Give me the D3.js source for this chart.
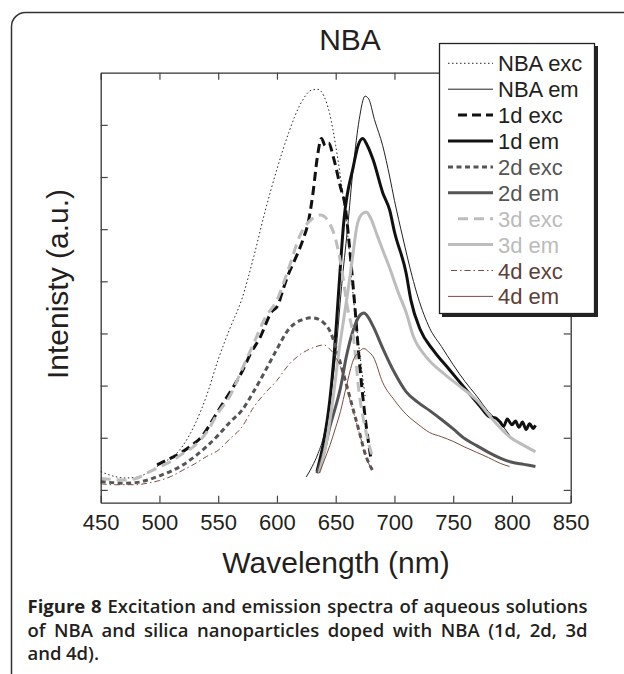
<!DOCTYPE html>
<html lang="en">
<head>
<meta charset="utf-8">
<title>NBA spectra</title>
<script src="https://cdn.jsdelivr.net/npm/d3@7"></script>
<style>
  body { margin: 0; background: #fff; }
  svg { display: block; }
</style>
</head>
<body>
<div id="drawing"></div>
<script>
// wavelength (nm), intensity (a.u.)
var nbaExc = [[450,0.35],[460,0.27],[470,0.23],[480,0.24],[490,0.33],[500,0.48],[510,0.62],[515,0.71],[520,0.85],[530,1.25],[540,1.8],[550,2.5],[560,3.1],[570,3.65],[580,4.45],[590,5.35],[600,6.15],[610,6.85],[620,7.4],[630,7.67],[635,7.68],[640,7.55],[645,7.2],[650,6.6],[655,5.85],[660,4.95],[665,3.7],[670,2.7],[675,1.8]];
var nbaEm = [[625,0.25],[630,0.45],[635,0.7],[640,1.05],[645,1.7],[650,2.6],[655,3.9],[660,5.0],[665,6.2],[670,7.1],[675,7.55],[678,7.5],[683,7.1],[690,6.6],[696,6.0],[700,5.55],[707,4.85],[715,4.1],[720,3.7],[730,3.1],[740,2.75],[750,2.4],[760,2.08],[770,1.8],[780,1.5],[790,1.28],[798,1.05]];
var d1Exc = [[498,0.48],[505,0.56],[515,0.67],[526,0.83],[537,1.05],[546,1.37],[554,1.66],[563,1.98],[571,2.3],[577,2.59],[586,2.94],[595,3.4],[601,3.55],[605,3.83],[610,4.15],[615,4.4],[622,4.79],[627,5.17],[631,5.75],[634,6.32],[638,6.74],[641,6.6],[644,6.65],[648,6.38],[654,5.81],[658,5.45],[662,4.6],[666,3.6],[670,2.5],[675,1.4],[680,0.6]];
var d1Em = [[634,0.35],[640,0.95],[645,1.72],[649,2.68],[652,3.64],[657,5.17],[665,6.2],[669,6.6],[673,6.74],[677,6.6],[682,6.32],[690,5.7],[696,5.36],[700,4.95],[710,4.15],[714,3.64],[722,3.07],[733,2.68],[747,2.3],[761,1.92],[773,1.6],[781,1.4],[786,1.38],[790,1.3],[793,1.22],[796,1.36],[800,1.25],[803,1.32],[806,1.2],[809,1.3],[812,1.16],[815,1.27],[818,1.18],[820,1.24]];
var d2Exc = [[450,0.16],[460,0.14],[470,0.13],[480,0.14],[490,0.19],[500,0.27],[510,0.36],[520,0.48],[530,0.64],[540,0.83],[550,1.05],[560,1.3],[570,1.52],[580,1.88],[590,2.28],[600,2.7],[610,3.08],[620,3.25],[630,3.3],[640,3.2],[645,3.05],[650,2.75],[655,2.35],[660,1.95],[665,1.53],[670,1.12],[675,0.7],[682,0.35]];
var d2Em = [[634,0.32],[640,0.72],[645,1.21],[650,1.6],[654,1.95],[659,2.55],[665,3.07],[670,3.33],[674,3.39],[678,3.3],[682,3.13],[690,2.72],[700,2.25],[710,1.88],[720,1.68],[730,1.52],[740,1.35],[750,1.17],[760,0.98],[770,0.85],[780,0.72],[790,0.61],[800,0.53],[810,0.49],[820,0.45]];
var d3Exc = [[450,0.22],[460,0.2],[470,0.19],[480,0.22],[490,0.33],[500,0.44],[510,0.55],[520,0.7],[530,0.85],[540,1.1],[550,1.48],[560,1.8],[570,2.3],[580,2.8],[590,3.3],[600,3.64],[610,4.25],[620,4.9],[630,5.2],[637,5.27],[645,5.1],[650,4.8],[655,4.25],[660,3.5],[665,2.95],[670,1.85],[675,1.2],[681,0.65]];
var d3Em = [[636,0.33],[642,0.9],[648,1.8],[653,2.7],[657,3.3],[660,3.75],[664,4.4],[668,5.05],[672,5.28],[676,5.33],[680,5.2],[685,4.9],[690,4.6],[696,4.25],[703,3.8],[710,3.4],[716,2.95],[727,2.55],[742,2.23],[756,1.98],[770,1.72],[784,1.34],[798,1.02],[812,0.83],[820,0.73]];
var d4Exc = [[450,0.12],[460,0.1],[470,0.1],[480,0.1],[490,0.13],[500,0.18],[510,0.26],[520,0.38],[530,0.5],[540,0.64],[550,0.76],[560,0.98],[570,1.2],[580,1.58],[590,1.86],[600,2.1],[610,2.4],[620,2.6],[630,2.72],[640,2.78],[645,2.7],[650,2.55],[655,2.3],[660,1.9],[665,1.5],[670,1.1],[675,0.7],[680,0.4]];
var d4Em = [[636,0.32],[640,0.55],[645,0.85],[650,1.2],[654,1.5],[659,1.98],[665,2.49],[670,2.65],[674,2.71],[678,2.65],[682,2.55],[690,2.06],[700,1.72],[710,1.45],[720,1.26],[730,1.1],[740,1.02],[750,0.93],[760,0.82],[770,0.72],[780,0.62],[790,0.51],[798,0.45]];

var seriesNames = ["NBA exc", "NBA em", "1d exc", "1d em", "2d exc", "2d em", "3d exc", "3d em", "4d exc", "4d em"];
var seriesData = [nbaExc, nbaEm, d1Exc, d1Em, d2Exc, d2Em, d3Exc, d3Em, d4Exc, d4Em];
var xTicks = [450, 500, 550, 600, 650, 700, 750, 800, 850];
var yTicks = [0, 1, 2, 3, 4, 5, 6, 7];

// styles
var colors = ["#222", "#222", "#111", "#111", "#555", "#555", "#bdbdbd", "#bdbdbd", "#7a4e42", "#7a4e42"];
var textColors = ["#231f20", "#231f20", "#231f20", "#231f20", "#555", "#555", "#bbb", "#bbb", "#5e4038", "#5e4038"];
var widths = [1, 1, 3, 3, 3, 3, 3, 3, 1, 1];
var dashes = ["1.5,2.5", null, "9,5", null, "5,3.5", null, "10,6", null, "6,3,1.5,3", null];
var sampleStart = [448, 448, 458, 448, 448, 448, 458, 448, 451, 448];

var font = "'Liberation Sans', Arial, Helvetica, sans-serif";

var svg = d3.select("#drawing").append("svg")
    .attr("width", 624)
    .attr("height", 674);

var x = d3.scaleLinear().domain([450, 850]).range([100.7, 570.7]);
var y = d3.scaleLinear().domain([-0.245, 8]).range([502.7, 72.7]);

var line = d3.line()
    .x(function(d) { return x(d[0]); })
    .y(function(d) { return y(d[1]); })
    .curve(d3.curveMonotoneX);

for (var i = 0; i < seriesData.length; i++) {
    svg.append("path")
        .attr("d", line(seriesData[i]))
        .attr("fill", "none")
        .attr("stroke", colors[i])
        .attr("stroke-width", widths[i])
        .attr("stroke-dasharray", dashes[i])
        .attr("stroke-linejoin", "round");
}

// axes, ticks pointing inward
function styleAxis(g) {
    g.select(".domain").attr("stroke", "#333").attr("stroke-width", 1.3);
    g.selectAll(".tick line").attr("stroke", "#444").attr("stroke-width", 1.2);
}

svg.append("g")
    .attr("transform", "translate(0," + y.range()[0] + ")")
    .call(d3.axisBottom(x).tickValues(xTicks).tickSizeInner(-7).tickSizeOuter(0).tickPadding(12))
    .call(styleAxis)
    .call(function(g) {
        g.selectAll("text")
            .attr("font-family", font)
            .attr("font-size", "22px")
            .attr("fill", "#231f20");
    });

svg.append("g")
    .attr("transform", "translate(0," + y.range()[1] + ")")
    .call(d3.axisTop(x).tickValues(xTicks).tickSizeInner(-7).tickSizeOuter(0).tickFormat(""))
    .call(styleAxis);

svg.append("g")
    .attr("transform", "translate(" + x.range()[0] + ",0)")
    .call(d3.axisLeft(y).tickValues(yTicks).tickSizeInner(-7).tickSizeOuter(0).tickFormat(""))
    .call(styleAxis);

svg.append("g")
    .attr("transform", "translate(" + x.range()[1] + ",0)")
    .call(d3.axisRight(y).tickValues(yTicks).tickSizeInner(-7).tickSizeOuter(0).tickFormat(""))
    .call(styleAxis);

// legend box with shadow
var lg = svg.append("g");
lg.append("rect")
    .attr("x", 442).attr("y", 46).attr("width", 156).attr("height", 271)
    .attr("fill", "#222");
lg.append("rect")
    .attr("x", 439.5).attr("y", 43.5).attr("width", 155).attr("height", 270)
    .attr("fill", "#fff").attr("stroke", "#222").attr("stroke-width", 1.3);

for (var j = 0; j < seriesNames.length; j++) {
    var ry = 63.3 + j * 25.9;
    lg.append("line")
        .attr("x1", sampleStart[j]).attr("x2", 493)
        .attr("y1", ry).attr("y2", ry)
        .attr("stroke", colors[j])
        .attr("stroke-width", widths[j])
        .attr("stroke-dasharray", dashes[j]);
    lg.append("text")
        .attr("x", 498)
        .attr("y", ry + 8)
        .attr("font-family", font)
        .attr("font-size", "22px")
        .attr("fill", textColors[j])
        .text(seriesNames[j]);
}

// titles
svg.append("text")
    .attr("x", 350).attr("y", 50)
    .attr("text-anchor", "middle")
    .attr("font-family", font).attr("font-size", "30px")
    .attr("fill", "#231f20")
    .text("NBA");

svg.append("text")
    .attr("transform", "translate(68,284) rotate(-90)")
    .attr("text-anchor", "middle")
    .attr("font-family", font).attr("font-size", "30px")
    .attr("fill", "#231f20")
    .text("Intenisty (a.u.)");

svg.append("text")
    .attr("x", 336).attr("y", 573)
    .attr("text-anchor", "middle")
    .attr("font-family", font).attr("font-size", "30px")
    .attr("fill", "#231f20")
    .text("Wavelength (nm)");

// outer frame, cut off at the right and bottom
svg.append("rect")
    .attr("x", 11.5).attr("y", 12.5)
    .attr("width", 700).attr("height", 700)
    .attr("rx", 14)
    .attr("fill", "none")
    .attr("stroke", "#333")
    .attr("stroke-width", 1.5);

// caption, one text per word, justified like the journal layout
var capFont = "'Open Sans', Lato, sans-serif";
var capSize = 18.5;
var capLeft = 27.5, capRight = 587.5, minGap = 4.5;
var capLines = [
    { base: 613, justify: true, words: ["Figure", "8", "Excitation", "and", "emission", "spectra", "of", "aqueous", "solutions"], bold: 2 },
    { base: 637, justify: true, words: ["of", "NBA", "and", "silica", "nanoparticles", "doped", "with", "NBA", "(1d,", "2d,", "3d"], bold: 0 },
    { base: 660, justify: false, words: ["and", "4d)."], bold: 0 }
];

// same squeeze for every line, taken from the widest one
var squeeze = 1;
capLines.forEach(function(ln) {
    var nodes = ln.words.map(function(w, k) {
        return svg.append("text")
            .attr("y", ln.base)
            .attr("font-family", capFont)
            .attr("font-size", capSize + "px")
            .attr("font-weight", k < ln.bold ? 700 : 600)
            .attr("fill", "#231f20")
            .text(w);
    });
    ln.nodes = nodes;
    ln.lens = nodes.map(function(n) { return n.node().getComputedTextLength(); });
    if (ln.justify) {
        var room = capRight - capLeft - minGap * (nodes.length - 1);
        squeeze = Math.min(squeeze, room / d3.sum(ln.lens));
    }
});

capLines.forEach(function(ln) {
    var lens = ln.lens.map(function(l) { return l * squeeze; });
    var n = ln.nodes.length;
    var gap = ln.justify ? (capRight - capLeft - d3.sum(lens)) / (n - 1) : minGap;
    var cx = capLeft;
    ln.nodes.forEach(function(t, k) {
        t.attr("x", cx);
        if (squeeze < 1) t.attr("textLength", lens[k]).attr("lengthAdjust", "spacingAndGlyphs");
        cx += lens[k] + gap;
    });
});
</script>
</body>
</html>
